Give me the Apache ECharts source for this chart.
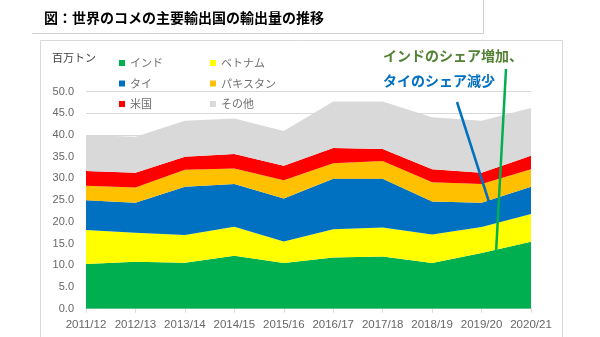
<!DOCTYPE html>
<html>
<head>
<meta charset="utf-8">
<script src="https://cdn.jsdelivr.net/npm/echarts@6/dist/echarts.min.js"></script>
<style>
html,body{margin:0;padding:0;background:#fff;}
#c{width:600px;height:337px;}
</style>
</head>
<body>
<div id="c"></div>
<script>
const categories = ['2011/12','2012/13','2013/14','2014/15','2015/16','2016/17','2017/18','2018/19','2019/20','2020/21'];
const india    = [10.3, 10.8, 10.6, 12.2, 10.5, 11.8, 12.0, 10.5, 12.8, 15.4];
const vietnam  = [7.8, 6.7, 6.4, 6.7, 5.0, 6.5, 6.7, 6.6, 6.0, 6.4];
const thailand = [6.9, 6.9, 11.1, 9.8, 9.9, 11.6, 11.2, 7.6, 5.6, 6.3];
const pakistan = [3.3, 3.5, 3.9, 3.6, 4.2, 3.6, 4.1, 4.4, 4.3, 4.0];
const usa      = [3.4, 3.4, 3.0, 3.3, 3.3, 3.5, 2.8, 3.0, 2.6, 3.1];
const others   = [8.3, 8.3, 8.3, 8.2, 8.0, 10.7, 10.9, 12.0, 12.0, 11.0];
const seriesNames = ['インド','ベトナム','タイ','パキスタン','米国','その他'];
const yTicks = [0,5,10,15,20,25,30,35,40,45,50];

const colors = ['#00b050','#ffff00','#0070c0','#ffc000','#ff0000','#d9d9d9'];
const dataSets = [india, vietnam, thailand, pakistan, usa, others];
const jp = '"Noto Sans CJK JP", sans-serif';
const num = '"Liberation Sans", Arial, sans-serif';

const chart = echarts.init(document.getElementById('c'), null, {renderer:'canvas'});

const series = dataSets.map((d,i)=>({
  name: seriesNames[i],
  type: 'line',
  stack: 'total',
  data: d,
  showSymbol: false,
  symbol: 'none',
  lineStyle: {width: 0, color: colors[i]},
  itemStyle: {color: colors[i]},
  areaStyle: {color: colors[i], opacity: 1},
  emphasis: {disabled: true},
  z: 2
}));

// annotation arrows
series.push({
  type: 'line', data: [], silent: true,
  markLine: {
    silent: true, animation: false,
    symbol: ['none','arrow'], symbolSize: [0, 11],
    label: {show: false},
    lineStyle: {type: 'solid', width: 2.5, color: '#00b050'},
    data: [[{x: 506, y: 69}, {x: 496, y: 253}]]
  },
  z: 5
});
series.push({
  type: 'line', data: [], silent: true,
  markLine: {
    silent: true, animation: false,
    symbol: ['none','arrow'], symbolSize: [0, 11],
    label: {show: false},
    lineStyle: {type: 'solid', width: 2.5, color: '#0070c0'},
    data: [[{x: 457, y: 102}, {x: 489, y: 202}]]
  },
  z: 5
});

const legendCommon = {
  orient: 'vertical',
  icon: 'rect',
  itemWidth: 6, itemHeight: 6,
  itemGap: 6.5,
  selectedMode: false,
  textStyle: {fontFamily: jp, fontSize: 11, color: '#6f6f6f', lineHeight: 14, padding: [0,0,0,0]}
};

chart.setOption({
  animation: false,
  backgroundColor: '#fff',
  title: {
    text: '図：世界のコメの主要輸出国の輸出量の推移',
    left: 39, top: 6,
    textStyle: {fontFamily: jp, fontSize: 14, fontWeight: 'bold', color: '#000'}
  },
  grid: {left: 86, right: 69, top: 91.6, bottom: 28.3},
  legend: [
    Object.assign({}, legendCommon, {left: 114, top: 51, data: [seriesNames[0], seriesNames[2], seriesNames[4]]}),
    Object.assign({}, legendCommon, {left: 205, top: 51, data: [seriesNames[1], seriesNames[3], seriesNames[5]]})
  ],
  xAxis: {
    type: 'category',
    data: categories,
    boundaryGap: false,
    axisLine: {show: true, lineStyle: {color: '#d9d9d9'}},
    axisTick: {show: true, length: 4, lineStyle: {color: '#d9d9d9'}},
    axisLabel: {fontFamily: num, fontSize: 11.5, color: '#666666', margin: 10, interval: 0}
  },
  yAxis: {
    type: 'value',
    min: yTicks[0], max: yTicks[yTicks.length-1], interval: yTicks[1]-yTicks[0],
    axisLine: {show: false},
    axisTick: {show: false},
    splitLine: {lineStyle: {color: '#d9d9d9', width: 1}},
    axisLabel: {fontFamily: num, fontSize: 11, color: '#666666', margin: 12,
      formatter: v => v.toFixed(1)}
  },
  graphic: [
    {type: 'rect', shape: {x: 40.5, y: 40.5, width: 522, height: 310}, style: {fill: 'none', stroke: '#d9d9d9', lineWidth: 1}, silent: true, z: -1},
    {type: 'line', shape: {x1: 32, y1: 33.5, x2: 483.5, y2: 33.5}, style: {stroke: '#cfcfcf', lineWidth: 1}, silent: true},
    {type: 'line', shape: {x1: 483.5, y1: 0, x2: 483.5, y2: 33.5}, style: {stroke: '#cfcfcf', lineWidth: 1}, silent: true},
    {type: 'text', left: 52, top: 52, style: {text: '百万トン', font: '11px ' + jp, fill: '#404040'}, silent: true},
    {type: 'text', left: 383, top: 49, style: {text: 'インドのシェア増加、', font: 'bold 14px ' + jp, fill: '#548235'}, silent: true, z: 10},
    {type: 'text', left: 383, top: 74, style: {text: 'タイのシェア減少', font: 'bold 14px ' + jp, fill: '#0070c0'}, silent: true, z: 10}
  ],
  series: series
});
</script>
</body>
</html>
